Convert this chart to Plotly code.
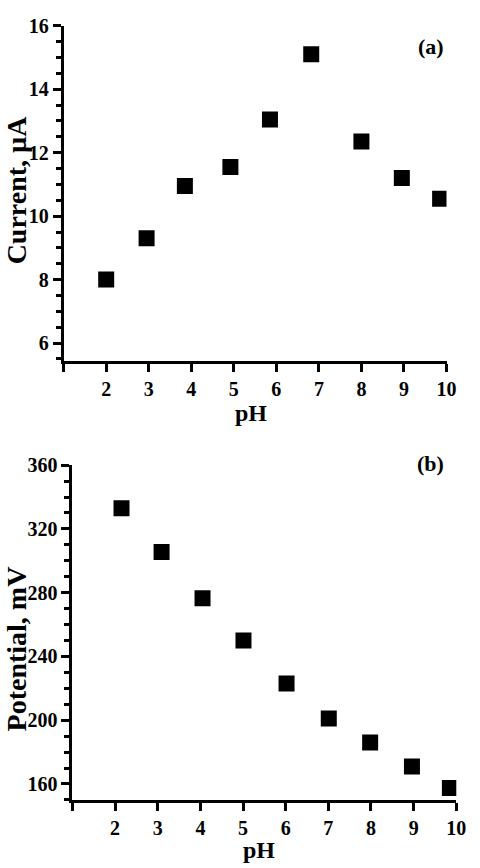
import plotly.graph_objects as go

# Panel (a): current vs pH
ph_a = [2.0, 2.95, 3.85, 4.92, 5.85, 6.82, 8.0, 8.95, 9.85]
current = [8.0, 9.3, 10.95, 11.55, 13.05, 15.1, 12.35, 11.2, 10.55]

# Panel (b): potential vs pH
ph_b = [2.15, 3.09, 4.05, 5.01, 6.02, 7.01, 7.98, 8.96, 9.85]
potential = [333, 305.5, 276.5, 250, 223, 201, 186, 171, 157.5]

x_ticks = [1, 2, 3, 4, 5, 6, 7, 8, 9, 10]
x_ticktext = ["", "2", "3", "4", "5", "6", "7", "8", "9", "10"]
y_ticks_a = [6, 8, 10, 12, 14, 16]
y_ticks_b = [160, 200, 240, 280, 320, 360]

W, H = 480, 868
FONT = "Liberation Serif, Times New Roman, serif"

fig = go.Figure()
fig.add_trace(go.Scatter(x=ph_a, y=current, mode="markers", xaxis="x", yaxis="y",
                         marker=dict(symbol="square", size=16, color="black"),
                         showlegend=False))
fig.add_trace(go.Scatter(x=ph_b, y=potential, mode="markers", xaxis="x2", yaxis="y2",
                         marker=dict(symbol="square", size=16, color="black"),
                         showlegend=False))

tickfont = dict(family=FONT, size=20, color="black", weight="bold")

def xax(domain, anchor):
    return dict(domain=domain, anchor=anchor, range=[1, 10], tickvals=x_ticks,
                ticktext=x_ticktext, showline=True, linewidth=3, linecolor="black",
                ticks="outside", ticklen=8, tickwidth=3, tickcolor="black",
                showgrid=False, zeroline=False, tickfont=tickfont)

def yax(domain, anchor, rng, tv, mdt):
    return dict(domain=domain, anchor=anchor, range=rng, tickvals=tv,
                showline=True, linewidth=3, linecolor="black",
                ticks="outside", ticklen=8, tickwidth=3, tickcolor="black",
                minor=dict(ticks="outside", ticklen=5, tickwidth=3, tickcolor="black", dtick=mdt,
                           tick0=tv[0], showgrid=False),
                showgrid=False, zeroline=False, tickfont=tickfont)

def txt(s, x, y, size, angle=0):
    return dict(text=s, x=x / W, y=(H - y) / H, xref="paper", yref="paper",
                xanchor="center", yanchor="middle", showarrow=False, textangle=angle,
                font=dict(family=FONT, size=size, color="black", weight="bold"))

fig.update_layout(
    width=W, height=H, margin=dict(l=0, r=0, t=0, b=0),
    paper_bgcolor="white", plot_bgcolor="white",
    xaxis=xax([65 / W, 456 / W], "y"),
    yaxis=yax([(H - 354) / H, (H - 15) / H], "x", [5.45, 16], y_ticks_a, 0.5),
    xaxis2=xax([74 / W, 466 / W], "y2"),
    yaxis2=yax([(H - 799) / H, (H - 460) / H], "x2", [150, 360], y_ticks_b, 10),
    annotations=[
        txt("(a)", 440, 36, 22),
        txt("(b)", 440, 458, 22),
        txt("pH", 256, 407, 24),
        txt("pH", 265, 850, 24),
        txt("Current, µA", 17, 181, 28, -90),
        txt("Potential, mV", 17, 646, 28, -90),
    ],
)

fig.write_html("out.html")
